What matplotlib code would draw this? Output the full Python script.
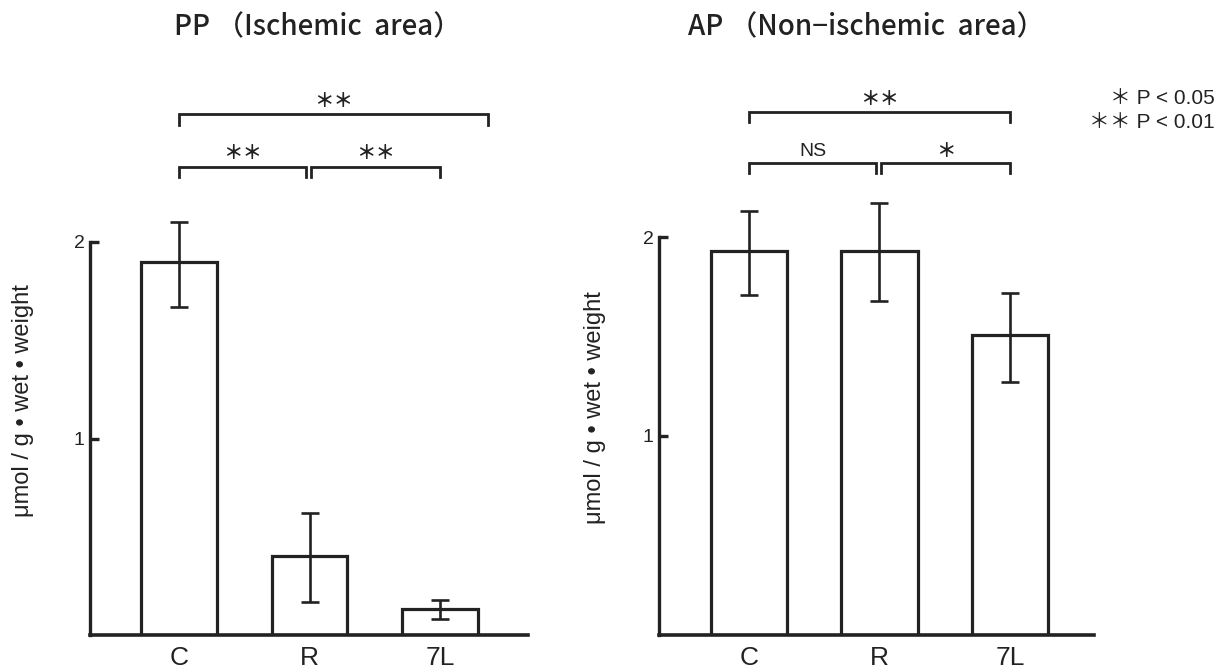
import matplotlib
matplotlib.use("Agg")
import matplotlib.pyplot as plt
import numpy as np

W, H = 1226, 672

categories = ["C", "R", "7L"]

pp_title = "PP （Ischemic  area）"
pp_mean = [1.90, 0.40, 0.13]
pp_err_low = [1.67, 0.17, 0.08]
pp_err_high = [2.10, 0.62, 0.18]
pp_brackets = [(0, 1, "＊＊"), (1, 2, "＊＊"), (0, 2, "＊＊")]

ap_title = "AP （Non−ischemic  area）"
ap_mean = [1.93, 1.93, 1.51]
ap_err_low = [1.71, 1.68, 1.27]
ap_err_high = [2.13, 2.17, 1.72]
ap_brackets = [(0, 1, "NS"), (1, 2, "＊"), (0, 2, "＊＊")]

y_ticks = [1, 2]
y_label = "μmol / g • wet • weight"
legend_lines = ["＊ P < 0.05", "＊＊ P < 0.01"]

SANS = ["Liberation Sans", "Noto Sans CJK JP", "DejaVu Sans"]
CJK = ["Noto Sans CJK JP", "DejaVu Sans"]
NARROW = ["Liberation Sans Narrow", "Liberation Sans", "DejaVu Sans"]
INK = "#222222"

fig = plt.figure(figsize=(W / 100, H / 100), dpi=100)
fig.patch.set_facecolor("white")


def px_axes(x0, x1, ybot, ytop):
    return fig.add_axes([x0 / W, 1 - ybot / H, (x1 - x0) / W, (ybot - ytop) / H])


def draw_panel(ax, mean, lo, hi, brackets, xlim, ylim, width, geo):
    x = np.arange(len(categories))
    mean = np.array(mean)
    yerr = np.vstack([mean - np.array(lo), np.array(hi) - mean])
    ax.bar(x, mean, width=width, facecolor="white", edgecolor=INK,
           linewidth=2.3, zorder=2)
    ax.errorbar(x, mean, yerr=yerr, fmt="none", ecolor=INK,
                elinewidth=1.9, capsize=6.5, capthick=1.9, zorder=3)
    ax.set_xlim(*xlim)
    ax.set_ylim(*ylim)
    for s in ("top", "right"):
        ax.spines[s].set_visible(False)
    ax.spines["left"].set_bounds(0, 2)
    ax.spines["left"].set_linewidth(2.4)
    ax.spines["bottom"].set_linewidth(2.6)
    ax.spines["left"].set_color(INK)
    ax.spines["bottom"].set_color(INK)
    ax.set_yticks(y_ticks)
    ax.set_yticklabels([str(t) for t in y_ticks], fontsize=14, family=SANS,
                       color=INK)
    ax.tick_params(axis="y", direction="in", length=6.5, width=2.4,
                   pad=4, colors=INK)
    ax.set_xticks(x)
    ax.set_xticklabels(categories, fontsize=19, family=NARROW, color=INK)
    ax.tick_params(axis="x", length=0, pad=8)
    ax.patch.set_alpha(0)

    low_y, low_drop, top_y, top_drop, low_txt, top_txt, top_right = geo
    for a, b, lab in brackets:
        if b - a == 2:
            y0, d, ty = top_y, top_drop, top_txt
            xa, xb = a, top_right
        else:
            y0, d, ty = low_y, low_drop, low_txt
            xa = a + (0.015 if a == 1 else 0)
            xb = b - (0.025 if b == 1 else 0)
        ax.plot([xa, xa, xb, xb], [y0 - d, y0, y0, y0 - d], color=INK,
                lw=2.0, clip_on=False, solid_joinstyle="miter")
        star = "＊" in lab
        ax.text((xa + xb) / 2, ty, lab, ha="center", va="center",
                fontsize=14, family=CJK if star else SANS,
                fontweight="bold" if star else "normal",
                color=INK, clip_on=False)


# Left panel: axis x=90 -> 528, baseline 635, 196.5 px per unit
sc_l = 130.5
axl = px_axes(90, 528, 635, 635 - 3.0 * 196.5)
draw_panel(axl, pp_mean, pp_err_low, pp_err_high, pp_brackets,
           (-(179 - 90) / sc_l, 2 + (528 - 440) / sc_l), (0, 3.0), 0.575,
           (2.382, 0.051, 2.651, 0.056, 2.45, 2.715, 2.37))

# Right panel: axis x=659 -> 1094, baseline 635, 199 px per unit
sc_r = 130.5
axr = px_axes(659, 1094, 635, 635 - 3.0 * 199)
draw_panel(axr, ap_mean, ap_err_low, ap_err_high, ap_brackets,
           (-(749 - 659) / sc_r, 2 + (1094 - 1010) / sc_r), (0, 3.0), 0.59,
           (2.372, 0.05, 2.628, 0.05, 2.43, 2.69, 2.0))

# Titles
fig.text(318 / W, 1 - 27 / H, pp_title, ha="center", va="center",
         fontsize=20, family=CJK, fontweight="medium", color=INK)
fig.text(866 / W, 1 - 27 / H, ap_title, ha="center", va="center",
         fontsize=20, family=CJK, fontweight="medium", color=INK)

# Y labels
fig.text(23 / W, 1 - 401 / H, y_label, rotation=90, ha="center", va="center",
         fontsize=17, family=SANS, color=INK)
fig.text(595 / W, 1 - 408 / H, y_label, rotation=90, ha="center", va="center",
         fontsize=17, family=SANS, color=INK)

# Significance legend
for i, line in enumerate(legend_lines):
    fig.text(1215 / W, 1 - (99 + 24 * i) / H, line, ha="right", va="center",
             fontsize=15, family=SANS, color=INK)

fig.savefig("out.png", dpi=100, facecolor="white")
